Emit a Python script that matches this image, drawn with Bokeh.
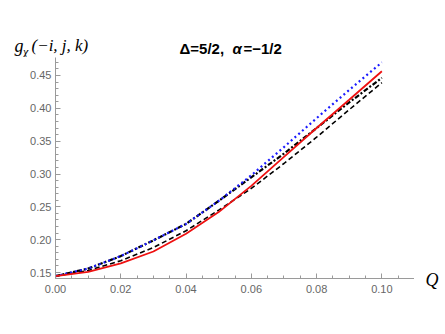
from bokeh.plotting import figure
from bokeh.models import Label, Range1d, FixedTicker
from bokeh.layouts import column, row
from bokeh.embed import file_html
from bokeh.resources import INLINE

# Data
Q = [0.00, 0.01, 0.02, 0.03, 0.04, 0.05, 0.06, 0.07, 0.08, 0.09, 0.10]
g_blue_dotted = [0.1445, 0.156, 0.175, 0.199, 0.224, 0.259, 0.298, 0.341, 0.385, 0.428, 0.470]
g_red_solid = [0.1445, 0.151, 0.164, 0.182, 0.209, 0.242, 0.282, 0.326, 0.370, 0.413, 0.4565]
g_black_dashdot = [0.1445, 0.156, 0.175, 0.199, 0.224, 0.259, 0.295, 0.331, 0.370, 0.409, 0.4465]
g_black_dashed = [0.1445, 0.153, 0.168, 0.188, 0.2136, 0.245, 0.278, 0.316, 0.356, 0.398, 0.439]

x_ticks = [0.00, 0.02, 0.04, 0.06, 0.08, 0.10]
x_tick_labels = ["0.00", "0.02", "0.04", "0.06", "0.08", "0.10"]
y_ticks = [0.15, 0.20, 0.25, 0.30, 0.35, 0.40, 0.45]
y_tick_labels = ["0.15", "0.20", "0.25", "0.30", "0.35", "0.40", "0.45"]

title_parts = ["Δ=5/2,", "α", "=−1/2"]
ylabel_parts = ["g", "χ", "(−i,  j,  k)"]
xlabel = "Q"

W = 441          # total width
HEAD = 57        # header strip height
MAIN_H = 261     # main plot height
MAIN_W = 414     # main plot width (frame right edge at axis end)
Q_W = W - MAIN_W


def bare(width, height, xr, yr):
    f = figure(width=width, height=height, output_backend="svg", toolbar_location=None,
               x_axis_type=None, y_axis_type=None, x_range=xr, y_range=yr,
               min_border=0)
    f.outline_line_color = None
    f.grid.visible = False
    f.background_fill_color = "white"
    f.border_fill_color = "white"
    return f


def lab(f, x, y, text, font, style, size, color="black"):
    f.add_layout(Label(x=x, y=y, text=text, text_font=font, text_font_style=style,
                       text_font_size=size, text_baseline="middle", text_color=color))


# ---- header strip (title and y-axis label) ----
head = bare(W, HEAD, Range1d(0, W), Range1d(HEAD, 0))
lab(head, 179, 48, title_parts[0], "Liberation Sans", "bold", "15px")
lab(head, 232, 48, title_parts[1], "Liberation Sans", "bold italic", "15px")
lab(head, 243, 48, title_parts[2], "Liberation Sans", "bold", "15px")
lab(head, 14, 45, ylabel_parts[0], "Liberation Serif", "italic", "18px")
lab(head, 22.5, 51, ylabel_parts[1], "Liberation Serif", "italic", "12px")
lab(head, 31, 45, ylabel_parts[2], "Liberation Serif", "italic", "17px")

# ---- main plot ----
p = figure(width=MAIN_W, height=MAIN_H, output_backend="svg", toolbar_location=None,
           x_range=Range1d(0, 0.11), y_range=Range1d(0.1409, 0.4774),
           min_border_left=55, min_border_right=0, min_border_top=0,
           min_border_bottom=MAIN_H - 221)
p.outline_line_color = None
p.grid.visible = False
p.background_fill_color = "white"
p.border_fill_color = "white"

axis_col = "#9a9a9a"
lab_col = "#666666"
for ax in (p.xaxis[0], p.yaxis[0]):
    ax.axis_line_color = axis_col
    ax.major_tick_line_color = axis_col
    ax.minor_tick_line_color = axis_col
    ax.major_tick_in = 5
    ax.major_tick_out = 0
    ax.minor_tick_in = 3
    ax.minor_tick_out = 0
    ax.major_label_text_color = lab_col
    ax.major_label_text_font = "Liberation Sans"
    ax.major_label_text_font_size = "11px"

p.xaxis[0].ticker = FixedTicker(ticks=x_ticks,
                                minor_ticks=[i * 0.005 for i in range(0, 23)])
p.xaxis[0].major_label_overrides = dict(zip(x_ticks, x_tick_labels))
p.yaxis[0].ticker = FixedTicker(ticks=y_ticks,
                                minor_ticks=[0.14 + i * 0.01 for i in range(0, 34)])
p.yaxis[0].major_label_overrides = dict(zip(y_ticks, y_tick_labels))
p.xaxis[0].major_label_standoff = 6
p.yaxis[0].major_label_standoff = 4

p.line(Q, g_black_dashed, line_color="black", line_width=1.6, line_dash="5 3")
p.line(Q, g_black_dashdot, line_color="black", line_width=2.2, line_dash="5 2 2 2")
p.line(Q, g_blue_dotted, line_color="#1a1aff", line_width=2.2, line_dash="2 3")
p.line(Q, g_red_solid, line_color="#ee1111", line_width=1.8)

# ---- right strip with the x-axis label (wrapped so its frame is not aligned) ----
qfig = bare(Q_W, MAIN_H, Range1d(0, Q_W), Range1d(MAIN_H, 0))
lab(qfig, 11, 222, xlabel, "Liberation Serif", "italic", "18px")

layout = column(head, row(p, column(qfig)))
open("out.html", "w").write(file_html(layout, INLINE))
